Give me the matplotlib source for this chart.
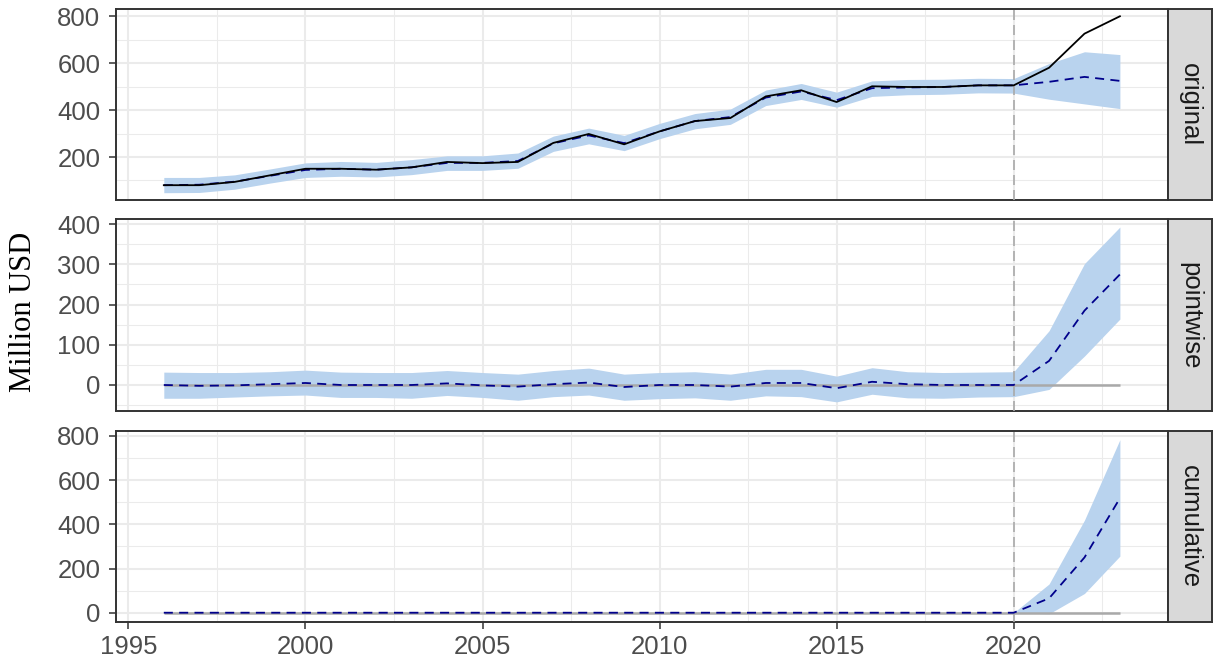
import matplotlib
matplotlib.use("Agg")
import matplotlib.pyplot as plt

# ---------------- data ----------------
years = list(range(1996, 2024))
actual = [80, 80, 94, 122, 150, 150, 146, 156, 179, 174, 179, 260, 298, 254,
          309, 353, 366, 458, 484, 434, 501, 498, 498, 505, 505, 580, 725, 799]
pred = [80, 82, 95, 120, 145, 150, 146, 156, 175, 175, 183, 258, 292, 259,
        309, 353, 370, 453, 479, 442, 493, 496, 498, 505, 505, 520, 541, 524]
pred_lower = [48, 49, 63, 89, 113, 118, 115, 125, 143, 143, 152, 224, 256, 227,
              278, 320, 339, 419, 445, 412, 458, 465, 467, 473, 472, 446, 426, 406]
pred_upper = [113, 113, 124, 149, 175, 181, 177, 189, 205, 205, 217, 289, 323, 292,
              343, 385, 404, 485, 513, 476, 524, 530, 531, 535, 534, 598, 648, 636]

point_effect = [0, -2, -1, 2, 5, 0, 0, 0, 4, -1, -4, 2, 6, -5,
                0, 0, -4, 5, 5, -8, 8, 2, 0, 0, 0, 60, 185, 275]
point_lower = [-33, -33, -30, -27, -25, -31, -31, -33, -26, -31, -38, -29, -25, -38,
               -34, -32, -38, -27, -29, -42, -23, -32, -33, -30, -29, -11, 72, 164]
point_upper = [32, 31, 31, 33, 37, 32, 31, 31, 36, 31, 27, 36, 42, 27,
               31, 33, 27, 39, 39, 22, 43, 33, 31, 32, 33, 135, 302, 393]

cum_effect = [0] * 25 + [65, 250, 518]
cum_lower = [0] * 25 + [-5, 87, 256]
cum_upper = [0] * 25 + [130, 419, 783]

intervention_year = 2020
panel_names = ["original", "pointwise", "cumulative"]
y_major = [[200, 400, 600, 800], [0, 100, 200, 300, 400], [0, 200, 400, 600, 800]]
y_minor = [[100, 300, 500, 700], [-50, 50, 150, 250, 350], [100, 300, 500, 700]]
y_limits = [(15.7, 830), (-64.7, 411.7), (-43.4, 823.5)]
x_major = [1995, 2000, 2005, 2010, 2015, 2020]
x_minor = [1997.5, 2002.5, 2007.5, 2012.5, 2017.5, 2022.5]
y_label = "Million USD"

# ---------------- style ----------------
W, H = 1215, 666
BAND = "#B9D3EE"
GRID = "#EBEBEB"
BORDER = "#333333"
TICKLAB = "#4D4D4D"
DGREY = "#A9A9A9"
SANS = ["Liberation Sans", "DejaVu Sans"]
SERIF = ["Liberation Serif", "DejaVu Serif"]

fig = plt.figure(figsize=(W / 100, H / 100), dpi=100)

left = 116 / W
right = 1167.7 / W
strip_right = 1212 / W
panels_px = [(9, 200.3), (219.5, 411), (430.7, 622.3)]

bands = [(pred_lower, pred_upper), (point_lower, point_upper), (cum_lower, cum_upper)]
centers = [pred, point_effect, cum_effect]

for i, (top_px, bot_px) in enumerate(panels_px):
    bottom = 1 - bot_px / H
    height = (bot_px - top_px) / H
    ax = fig.add_axes([left, bottom, right - left, height])
    ax.set_axisbelow(True)

    lo, hi = bands[i]
    ax.fill_between(years, lo, hi, color=BAND, linewidth=0, zorder=2)
    if i > 0:
        ax.plot([years[0], years[-1]], [0, 0], color=DGREY, lw=1.8, zorder=3,
                solid_capstyle="butt")
    ax.axvline(intervention_year, color=DGREY, lw=1.2, linestyle=(0, (6, 3)), zorder=3)
    ax.plot(years, centers[i], color="#00008B", lw=1.3, linestyle=(0, (5, 3.5)), zorder=4)
    if i == 0:
        ax.plot(years, actual, color="black", lw=1.3, zorder=5)

    ax.set_xlim(1994.65, 2024.35)
    ax.set_ylim(*y_limits[i])
    ax.set_xticks(x_major)
    ax.set_xticks(x_minor, minor=True)
    ax.set_yticks(y_major[i])
    ax.set_yticks(y_minor[i], minor=True)
    ax.grid(which="major", color=GRID, lw=1.5)
    ax.grid(which="minor", color=GRID, lw=0.75)
    ax.tick_params(which="minor", length=0)
    ax.tick_params(axis="y", which="major", length=5.2, width=1.1, color=BORDER,
                   labelcolor=TICKLAB, labelsize=18.5, pad=6)
    if i == 2:
        ax.tick_params(axis="x", which="major", length=5.2, width=1.1, color=BORDER,
                       labelcolor=TICKLAB, labelsize=18.5, pad=4)
    else:
        ax.tick_params(axis="x", which="major", length=0, labelbottom=False)
    for lab in ax.get_xticklabels() + ax.get_yticklabels():
        lab.set_family(SANS)
    for sp in ax.spines.values():
        sp.set_color(BORDER)
        sp.set_linewidth(1.4)

    sax = fig.add_axes([right, bottom, strip_right - right, height])
    sax.set_facecolor("#D9D9D9")
    sax.set_xticks([])
    sax.set_yticks([])
    for sp in sax.spines.values():
        sp.set_color(BORDER)
        sp.set_linewidth(1.4)
    sax.text(0.5, 0.5, panel_names[i], rotation=270, ha="center", va="center",
             fontsize=18.5, color="#1A1A1A", family=SANS, transform=sax.transAxes)

fig.text(24 / W, 1 - 312 / H, y_label, rotation=90, ha="center", va="center",
         fontsize=22, family=SERIF, color="black")

fig.savefig("out.png", dpi=100)
